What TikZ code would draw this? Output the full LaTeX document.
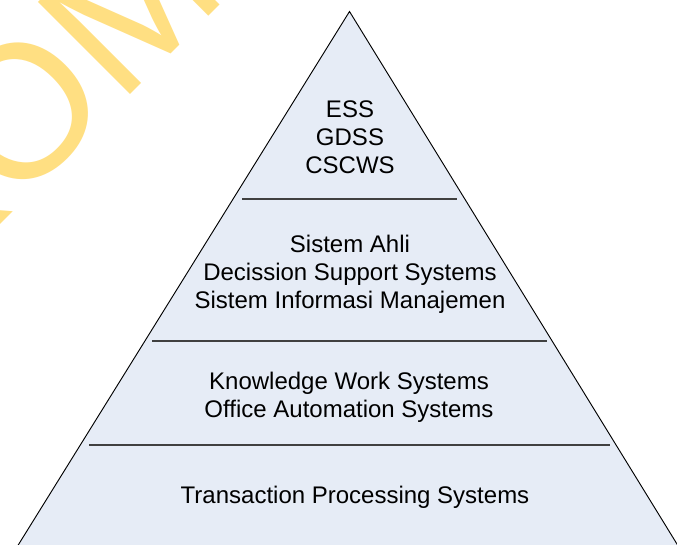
\documentclass[tikz,border=0pt]{standalone}
\usepackage{fontspec}
\setmainfont{Liberation Sans}
\definecolor{tierfill}{RGB}{230,236,246}
\definecolor{rulegray}{RGB}{64,64,64}
\definecolor{stampyellow}{RGB}{255,223,130}
\tikzset{
  tier/.style={fill=tierfill, draw=black, line width=0.7pt, line join=miter},
  divider/.style={draw=rulegray, line width=1pt},
  tierlabel/.style={align=center, inner sep=0pt, anchor=base, text=black,
    font=\fontsize{18}{21}\selectfont},
  stamp/.style={text=stampyellow, inner sep=0pt, anchor=base west, rotate=45,
    font=\fontsize{142}{142}\selectfont}
}
\begin{document}
\begin{tikzpicture}[x=0.75pt, y=-0.75pt]
  \useasboundingbox (0,0) rectangle (677,544);
  \clip (0,0) rectangle (677,544);
  \fill[white] (0,0) rectangle (677,544);

  % faint stamp lettering in the upper-left corner
  \node[stamp] (stamp) at (-74.5,299.3) {KOM};

  % pyramid outline
  \coordinate (apex) at (349.5,11.5);
  \coordinate (baseL) at (8.9,560);
  \coordinate (baseR) at (686.8,560);
  \path[tier] (apex) -- (baseR) -- (baseL) -- cycle;

  % level separators
  \coordinate (d1a) at (242,199);  \coordinate (d1b) at (457,199);
  \coordinate (d2a) at (152,341);  \coordinate (d2b) at (547,341);
  \coordinate (d3a) at (89,445);   \coordinate (d3b) at (610,445);
  \draw[divider] (d1a) -- (d1b);
  \draw[divider] (d2a) -- (d2b);
  \draw[divider] (d3a) -- (d3b);

  % level labels
  \node[tierlabel] (top) at (350,173) {ESS\\GDSS\\CSCWS};
  \node[tierlabel] (upper) at (350,308) {Sistem Ahli\\Decission Support Systems\\Sistem Informasi Manajemen};
  \node[tierlabel] (middle) at (349,417) {Knowledge Work Systems\\Office Automation Systems};
  \node[tierlabel] (bottom) at (355,503) {Transaction Processing Systems};
\end{tikzpicture}
\end{document}
